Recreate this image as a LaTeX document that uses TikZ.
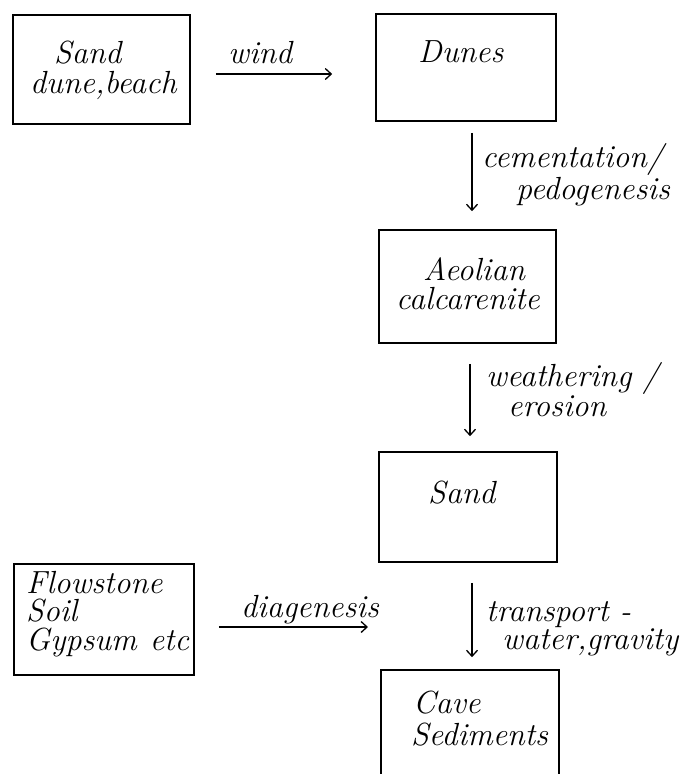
\documentclass[tikz,border=0pt]{standalone}
\usepackage{fontspec}
\usetikzlibrary{arrows.meta}
\begin{document}
\begin{tikzpicture}[x=1pt,y=-1pt,
  box/.style={draw, line width=1.6pt, minimum width=#1, inner sep=0pt},
  lbl/.style={anchor=base west, inner sep=0pt, align=left, font=\fontsize{32}{#1}\selectfont\itshape},
  lbl/.default=26,
  arr/.style={line width=1.3pt, -{Straight Barb[length=6pt,width=11pt,line width=1.3pt]}}]
\useasboundingbox (0,0) rectangle (695,774);
% boxes
\node[box=177pt, minimum height=109pt] (boxA) at (101.5,69.5) {};
\node[box=180pt, minimum height=107pt] (dunes) at (466,67.5) {};
\node[box=177pt, minimum height=113pt] (aeol) at (467.5,286.5) {};
\node[box=178pt, minimum height=110pt] (sand) at (468,507) {};
\node[box=180pt, minimum height=111pt] (flow) at (104,619.5) {};
\node[box=178pt, minimum height=130pt] (cave) at (470,735) {};
% box texts (anchor = baseline of last line)
\node[lbl=30] (tA) at (30,93) {\hspace*{24pt}Sand\\dune,beach};
\node[lbl] (tD) at (418,62) {Dunes};
\node[lbl=29] (tE) at (396,309) {\hspace*{27pt}Aeolian\\calcarenite};
\node[lbl] (tS) at (428,503) {Sand};
\node[lbl=28.5] (tF) at (26,650) {Flowstone\\Soil\\Gypsum\hspace{13pt}etc};
\node[lbl=32] (tC) at (411,745) {\hspace*{2pt}Cave\\Sediments};
% arrow labels
\node[lbl] (lw) at (228,63) {wind};
\node[lbl=26] (lc) at (482,199) {cementation/\\\hspace*{34pt}pedogenesis};
\node[lbl=28] (lr) at (486,416) {weathering /\\\hspace*{22pt}erosion};
\node[lbl=27] (lt) at (486,649) {transport -\\\hspace*{16pt}water,gravity};
\node[lbl] (ld) at (241,617) {diagenesis};
% connectors
\coordinate (diagEnd) at (368,627);
\draw[arr, shorten <=25pt, shorten >=43pt] ([yshift=-4.5pt]boxA.east) -- ([yshift=-4.5pt]dunes.west |- boxA.east);
\draw[arr, shorten <=11pt, shorten >=18pt] ([xshift=6pt]dunes.south) -- ([xshift=6pt]dunes.south |- aeol.north);
\draw[arr, shorten <=20pt, shorten >=15pt] ([xshift=2.5pt]aeol.south) -- ([xshift=2.5pt]aeol.south |- sand.north);
\draw[arr, shorten <=20pt, shorten >=12pt] ([xshift=4pt]sand.south) -- ([xshift=4pt]sand.south |- cave.north);
\draw[arr, shorten <=24pt] ([yshift=-7.5pt]flow.east) -- (diagEnd);
\end{tikzpicture}
\end{document}
